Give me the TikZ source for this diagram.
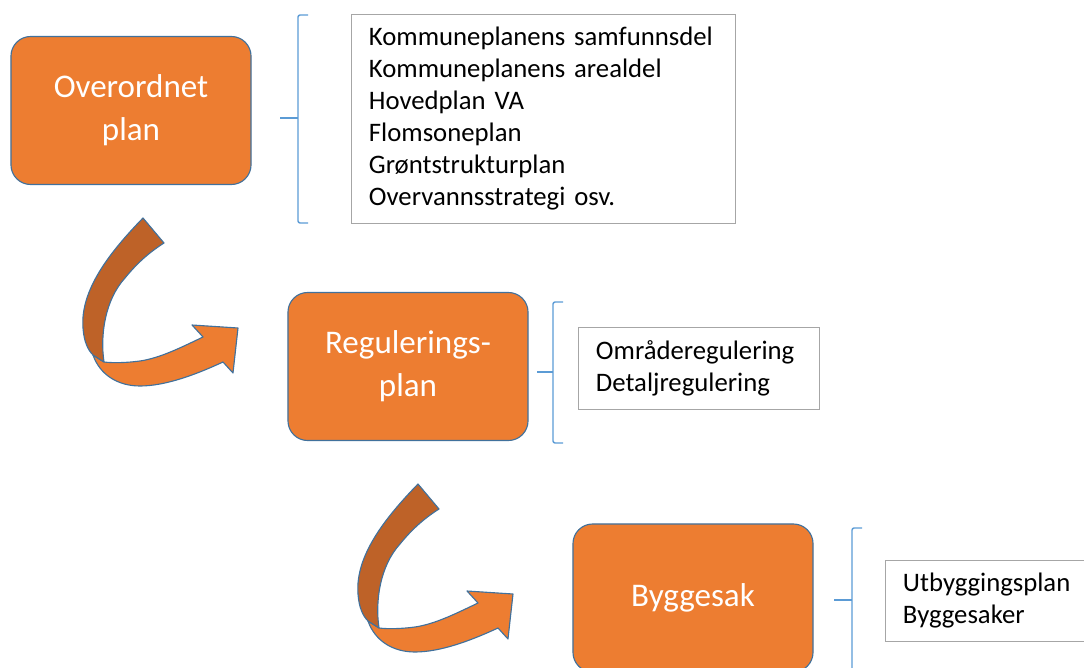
\documentclass[tikz,border=0pt]{standalone}
\usepackage{fontspec}
\setmainfont{Carlito}
\definecolor{planorange}{HTML}{ED7D31}
\definecolor{planbrown}{HTML}{BE6228}
\definecolor{planedge}{HTML}{41719C}
\definecolor{bracketblue}{HTML}{5B9BD5}

\begin{document}
\begin{tikzpicture}[x=0.025cm, y=-0.025cm,
  stage/.style={rectangle, rounded corners=14pt, fill=planorange, draw=planedge, line width=0.8pt,
    text=white, minimum width=6cm, minimum height=3.7cm, align=center,
    font=\fontsize{23.5}{30.6}\selectfont},
  listbox/.style={rectangle, draw=black!35, line width=0.6pt, inner xsep=0.45cm, align=left,
    font=\fontsize{19}{22.8}\selectfont},
  bracket/.style={draw=bracketblue, line width=1pt, rounded corners=1.5pt},
  ribbon/.style={draw=planedge, line width=0.8pt, line join=round}]
\useasboundingbox (0,0) rectangle (1084,668);

% the three planning levels
\node[stage] (overordnet) at (131,110.5) {Overordnet\\plan};
\node[stage] (regulering) at (408,366.5) {Regulerings-\\plan};
\node[stage] (byggesak) at (693,598) {Byggesak};

% what belongs to each level
\node[listbox, text width=8.7cm, minimum height=5.225cm] (list1) at (543,118.5)
  {Kommuneplanens samfunnsdel\\Kommuneplanens arealdel\\Hovedplan VA\\Flomsoneplan\\Grøntstrukturplan\\Overvannsstrategi osv.};
\node[listbox, text width=5.125cm, minimum height=2.05cm] (list2) at (698.5,368)
  {Områderegulering\\Detaljregulering};
\node[listbox, text width=5.125cm, minimum height=2.025cm] (list3) at (1005.5,600.5)
  {Utbyggingsplan\\Byggesaker};

% brackets
\draw[bracket] (308,15) -- (298,15) -- (298,223) -- (308,223);
\draw[bracket] (298,118) -- (280,118);
\draw[bracket] (563,302) -- (553,302) -- (553,443) -- (563,443);
\draw[bracket] (553,372) -- (537,372);
\draw[bracket] (862,528) -- (852,528) -- (852,700) -- (862,700);
\draw[bracket] (852,600) -- (834,600);

% curved ribbon arrows between the levels
\foreach \dx/\dy in {0/0, 275/266} {
\begin{scope}[shift={(\dx,\dy)}]
\filldraw[ribbon, fill=planorange] (93,355) .. controls (100,375) and (118,386) .. (140,386)
  .. controls (165,386) and (195,375) .. (223,362) -- (233,373) -- (238,328) -- (192,325) -- (203,337)
  .. controls (180,348) and (160,358) .. (140,361) .. controls (125,363) and (112,363) .. (104,362) -- cycle;
\filldraw[ribbon, fill=planbrown] (143,218) .. controls (110,252) and (80,290) .. (83,328)
  .. controls (84,342) and (88,350) .. (93,355) -- (104,362)
  .. controls (100,335) and (105,300) .. (125,278) .. controls (138,262) and (150,252) .. (164,243) -- cycle;
\end{scope}
}
\end{tikzpicture}
\end{document}
